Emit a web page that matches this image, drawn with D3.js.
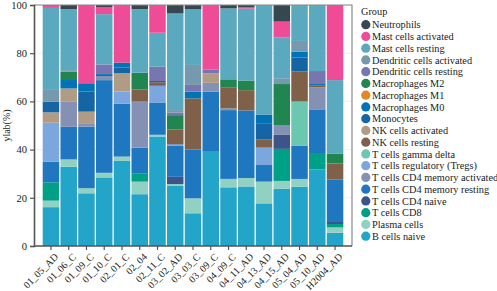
<!DOCTYPE html>
<html>
<head>
<meta charset="utf-8">
<script src="https://cdn.jsdelivr.net/npm/d3@7"></script>
<style>
  body { margin: 0; background: #fff; }
  svg, svg text { font-family: "Liberation Serif", "Times New Roman", Times, serif; }
</style>
</head>
<body>
<div id="chart"></div>
<script>
// samples on the x axis
const samples = ["01_05_AD", "01_06_C", "01_09_C", "01_10_C", "02_01_C", "02_04", "02_11_C", "03_02_AD",
    "03_03_C", "03_09_C", "04_09_C", "04_11_AD", "04_13_AD", "04_15_AD", "05_04_AD", "05_10_AD", "H2004_AD"];

// cell types, legend order (top of stack first)
const groups = ["Neutrophils", "Mast cells activated", "Mast cells resting", "Dendritic cells activated",
    "Dendritic cells resting", "Macrophages M2", "Macrophages M1", "Macrophages M0", "Monocytes",
    "NK cells activated", "NK cells resting", "T cells gamma delta", "T cells regulatory (Tregs)",
    "T cells CD4 memory activated", "T cells CD4 memory resting", "T cells CD4 naive", "T cells CD8",
    "Plasma cells", "B cells naive"];

const groupColors = ["#36474f", "#ee4c97", "#5ba9bf", "#7699ad", "#7876b1", "#20854e", "#e18727", "#0072b5",
    "#1565a5", "#b09c85", "#7e6148", "#6cc7b0", "#7ca7de", "#8491b4", "#1f77c0", "#3c5488", "#00a087",
    "#91d1c2", "#22a5c8"];

// percentages per sample, one array per cell type (same order as samples)
const neutrophils       = [0, 1.7, 0, 1.0, 0, 1.7, 0, 3.5, 1.8, 0, 1.4, 1.0, 0, 6.9, 0, 0, 0];
const mastActivated     = [1.2, 0, 32.5, 2.8, 23.9, 0, 11.5, 0, 0, 26.7, 0, 0.5, 0, 6.5, 0, 0, 31.1];
const mastResting       = [34.0, 25.3, 0, 20.9, 0, 26.4, 14.1, 40.1, 23.1, 0, 29.5, 29.7, 45.6, 17.0, 14.9, 27.4, 30.4];
const dcActivated       = [4.9, 0.7, 0, 0, 0, 0, 0, 1.1, 8.3, 0, 0, 0, 0, 2.4, 4.4, 0, 0];
const dcResting         = [0, 0, 0, 4.0, 0, 0, 5.9, 1.0, 2.8, 1.7, 0, 0, 0, 0, 0, 5.4, 0];
const macroM2           = [0, 3.4, 0, 0, 0, 6.9, 0, 5.9, 0, 0, 3.5, 4.0, 0, 17.0, 0, 0, 4.1];
const macroM1           = [0, 0, 0, 0, 0, 0, 0, 0, 0, 0, 0, 0, 0, 0, 0, 0, 0];
const macroM0           = [0, 3.5, 3.5, 0.8, 2.1, 0, 0.5, 0, 2.8, 0, 0, 0, 3.7, 0, 2.5, 0.7, 0];
const monocytes         = [4.4, 0, 8.3, 0, 2.3, 0, 0, 0, 0, 0, 0, 0, 6.4, 0, 5.8, 0, 0];
const nkActivated       = [4.3, 5.5, 5.1, 0, 7.6, 0, 0, 0, 0, 3.9, 0, 0, 0, 0, 0, 0, 0];
const nkResting         = [0, 0, 0, 0, 0, 5.1, 1.5, 6.1, 21.2, 0, 8.6, 8.4, 3.5, 0, 12.4, 0.7, 6.6];
const tGammaDelta       = [0, 0, 0, 0, 0, 0, 0, 0, 0, 0, 0, 0, 0, 0, 18.4, 0, 0];
const tregs             = [16.2, 0, 0, 0, 5.1, 0, 6.9, 0, 0, 0, 0, 0, 7.2, 0, 0, 0, 0];
const cd4MemActivated   = [0, 10.4, 1.1, 1.7, 0, 19.1, 0, 0.7, 0, 3.7, 0.7, 0, 0, 4.1, 0, 9.1, 0];
const cd4MemResting     = [8.5, 13.5, 25.6, 38.5, 21.9, 10.6, 13.4, 12.9, 20.3, 24.9, 28.6, 27.9, 6.9, 0, 13.7, 18.5, 17.3];
const cd4Naive          = [0, 0, 0, 0, 0, 0, 0, 3.0, 0, 0, 0, 0, 0, 5.8, 0, 0, 1.2];
const cd8               = [7.6, 0, 0, 0, 0, 3.5, 0, 0, 0, 0, 0, 0, 0, 13.3, 0, 6.4, 1.4];
const plasma            = [2.7, 3.0, 2.1, 1.9, 1.8, 5.2, 0.7, 0.8, 6.2, 0, 3.5, 3.5, 9.0, 3.3, 3.2, 0, 2.2];
const bNaive            = [16.1, 32.9, 21.9, 28.5, 35.3, 21.5, 45.4, 24.9, 13.6, 39.1, 24.4, 24.6, 17.7, 23.7, 24.6, 31.8, 5.5];

const yTicks = [0, 20, 40, 60, 80, 100];

const series = [neutrophils, mastActivated, mastResting, dcActivated, dcResting, macroM2, macroM1, macroM0,
    monocytes, nkActivated, nkResting, tGammaDelta, tregs, cd4MemActivated, cd4MemResting, cd4Naive, cd8,
    plasma, bNaive];

const width = 497, height = 291;
const margin = {left: 34, right: 145, top: 5, bottom: 45};
const serif = "'Liberation Serif', 'Times New Roman', serif";

const rows = samples.map((s, i) => {
    let r = {sample: s};
    groups.forEach((g, j) => r[g] = series[j][i]);
    return r;
});

const svg = d3.select("#chart").append("svg")
    .attr("width", width)
    .attr("height", height)
    .attr("font-family", serif);

const x = d3.scaleBand()
    .domain(samples)
    .range([margin.left, width - margin.right])
    .paddingInner(0.07)
    .paddingOuter(0.49);

const y = d3.scaleLinear()
    .domain([0, 100])
    .range([height - margin.bottom, margin.top]);

const color = d3.scaleOrdinal().domain(groups).range(groupColors);

// stack from the bottom: B cells naive first
const stack = d3.stack()
    .keys(groups.slice().reverse())
    .offset(d3.stackOffsetExpand);
const stacked = stack(rows);

// grid
svg.append("g").selectAll("line")
    .data(yTicks)
    .enter().append("line")
    .attr("x1", margin.left).attr("x2", width - margin.right)
    .attr("y1", d => y(d)).attr("y2", d => y(d))
    .attr("stroke", "#ebebeb")
    .attr("stroke-width", 0.8);

// bars
svg.append("g").selectAll("g")
    .data(stacked)
    .enter().append("g")
    .attr("fill", d => color(d.key))
    .selectAll("rect")
    .data(d => d)
    .enter().append("rect")
    .attr("x", d => x(d.data.sample))
    .attr("width", x.bandwidth())
    .attr("y", d => y(d[1] * 100))
    .attr("height", d => y(d[0] * 100) - y(d[1] * 100));

// panel border (top / right)
svg.append("path")
    .attr("d", "M" + margin.left + "," + margin.top + "H" + (width - margin.right) + "V" + (height - margin.bottom))
    .attr("fill", "none")
    .attr("stroke", "#8a8a8a")
    .attr("stroke-width", 1.2);

// y axis
const yAxis = svg.append("g")
    .attr("transform", "translate(" + margin.left + ",0)")
    .call(d3.axisLeft(y).tickValues(yTicks).tickSize(4).tickPadding(3));
yAxis.attr("font-family", serif);
yAxis.select(".domain").attr("stroke", "#555").attr("stroke-width", 1.6);
yAxis.selectAll(".tick line").attr("stroke", "#555").attr("stroke-width", 1.2);
yAxis.selectAll(".tick text")
    .attr("font-size", 10.5)
    .attr("fill", "#222");

// x axis
const xAxis = svg.append("g")
    .attr("transform", "translate(0," + (height - margin.bottom) + ")")
    .call(d3.axisBottom(x).tickSize(4).tickSizeOuter(0));
xAxis.attr("font-family", serif);
xAxis.select(".domain")
    .attr("d", "M" + margin.left + ",0H" + (width - margin.right))
    .attr("stroke", "#555").attr("stroke-width", 1.6);
xAxis.selectAll(".tick line").attr("stroke", "#555").attr("stroke-width", 1.2);
xAxis.selectAll(".tick text")
    .attr("font-size", 10)
    .attr("fill", "#222")
    .attr("text-anchor", "end")
    .attr("dy", "0")
    .attr("transform", "translate(3,6.5) rotate(-45)");

// y label
svg.append("text")
    .attr("transform", "translate(10," + ((margin.top + height - margin.bottom) / 2) + ") rotate(-90)")
    .attr("text-anchor", "middle")
    .attr("font-size", 10)
    .attr("fill", "#222")
    .text("ylab(%)");

// legend
const legend = svg.append("g").attr("transform", "translate(361,0)");
legend.append("text")
    .attr("x", 0).attr("y", 15)
    .attr("font-size", 10.3)
    .attr("fill", "#222")
    .text("Group");

const item = legend.selectAll("g.item")
    .data(groups)
    .enter().append("g")
    .attr("class", "item")
    .attr("transform", (d, i) => "translate(0," + (24.7 + i * 11.75) + ")");
item.append("circle")
    .attr("cx", 4.8).attr("cy", 0).attr("r", 4.6)
    .attr("fill", d => color(d));
item.append("text")
    .attr("x", 11).attr("y", 3.6)
    .attr("font-size", 10.3)
    .attr("fill", "#222")
    .text(d => d);
</script>
</body>
</html>
